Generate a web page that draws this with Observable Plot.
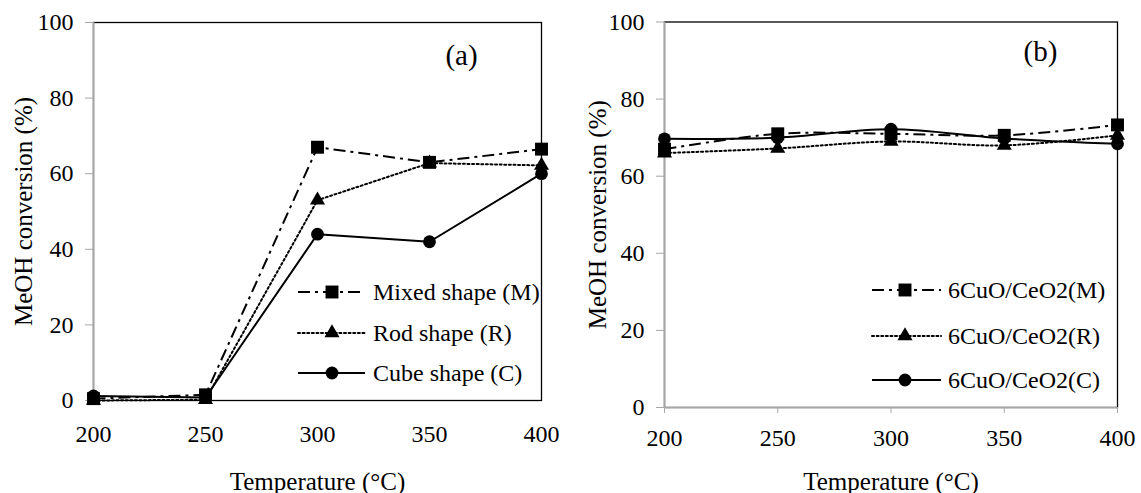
<!DOCTYPE html>
<html>
<head>
<meta charset="utf-8">
<script src="https://cdn.jsdelivr.net/npm/d3@7"></script>
<script src="https://cdn.jsdelivr.net/npm/@observablehq/plot@0.6"></script>
<style>
  html, body { margin: 0; padding: 0; background: #fff; }
  #wrap { position: relative; width: 1141px; height: 493px; overflow: hidden; background: #fff; }
  #pa { position: absolute; left: 0; top: 0; }
  #pb { position: absolute; left: 570px; top: 0; }
  #wrap svg, #wrap svg text, #wrap svg g { font-family: 'Liberation Serif', 'Times New Roman', serif !important; }
</style>
</head>
<body>
<div id="wrap"><div id="pa"></div><div id="pb"></div></div>
<script>
// ---- data ----
const temps = [200, 250, 300, 350, 400];
const xTicks = [200, 250, 300, 350, 400];
const yTicks = [0, 20, 40, 60, 80, 100];

const seriesA = ["Mixed shape (M)", "Rod shape (R)", "Cube shape (C)"];
const aMixed = [0.5, 1.5, 67, 63, 66.5];
const aRod   = [0, 0.2, 53, 62.8, 62.2];
const aCube  = [1.2, 0.8, 44, 42, 60];

const seriesB = ["6CuO/CeO2(M)", "6CuO/CeO2(R)", "6CuO/CeO2(C)"];
const bMixed = [67, 71, 71, 70.6, 73.3];
const bRod   = [66, 67.2, 69, 68, 70.6];
const bCube  = [69.7, 70, 72.2, 69.8, 68.4];

const xTitle = "Temperature (°C)";
const yTitle = "MeOH conversion (%)";

// ---- styles ----
const FONT = "'Liberation Serif', 'Times New Roman', serif";
const GRAY = "#a6a6a6";
const styles = [
  {symbol: "square", r: 7.3, dash: "12,5,3,5"},
  {symbol: "triangle", r: 5.6, dash: "2,2.6"},
  {symbol: "circle", r: 6.4, dash: null}
];

function toRows(names, arrays) {
  const rows = [];
  names.forEach((n, i) => arrays[i].forEach((v, j) => rows.push({series: n, idx: i, x: temps[j], y: v})));
  return rows;
}

function panel(opts) {
  const rows = toRows(opts.names, opts.arrays);
  const marks = [
    Plot.frame({stroke: "black", strokeWidth: 1.3}),
    Plot.ruleX([200], {stroke: GRAY, strokeWidth: 1.6}),
  ];
  if (opts.grayBottom) marks.push(Plot.ruleY([0], {stroke: GRAY, strokeWidth: 1.6}));
  marks.push(
    Plot.axisY({ticks: yTicks, tickSize: 8, tickPadding: 12, stroke: GRAY, fill: "black", label: null, fontSize: 24, fontFamily: FONT}),
    Plot.axisX({ticks: xTicks, tickSize: opts.xTickSize, tickPadding: opts.xTickPadding, stroke: GRAY, fill: "black", label: null, fontSize: 24, fontFamily: FONT}),
  );
  opts.names.forEach((n, i) => {
    const d = rows.filter(r => r.idx === i);
    const st = styles[i];
    marks.push(Plot.line(d, {x: "x", y: "y", stroke: "black", strokeWidth: 2,
      strokeDasharray: st.dash || undefined, strokeLinecap: i === 1 ? "round" : "butt",
      curve: opts.curve}));
    marks.push(Plot.dot(d, {x: "x", y: "y", symbol: () => st.symbol, r: st.r, fill: "black", stroke: "none"}));
  });
  marks.push(
    Plot.text([xTitle], {frameAnchor: "bottom", dy: opts.xTitleDy, fontSize: 25, fontFamily: FONT, textAnchor: "middle", lineAnchor: "middle", fill: "black"}),
    Plot.text([yTitle], {frameAnchor: "left", dx: opts.yTitleDx, rotate: -90, fontSize: 25, fontFamily: FONT, textAnchor: "middle", lineAnchor: "middle", fill: "black"}),
    Plot.text([opts.tag], {frameAnchor: "top-right", dx: opts.tagDx, dy: opts.tagDy, fontSize: 29, fontFamily: FONT, textAnchor: "middle", lineAnchor: "middle", fill: "black"})
  );
  const svg = Plot.plot({
    width: opts.width, height: 493,
    marginLeft: opts.ml, marginRight: opts.mr, marginTop: opts.mt, marginBottom: opts.mb,
    x: {domain: [200, 400]},
    y: {domain: [0, 100]},
    style: {fontFamily: FONT, fontSize: "24px", color: "black", background: "white", overflow: "visible"},
    marks
  });
  // legend
  const g = d3.select(svg).append("g").attr("font-family", FONT).attr("font-size", 24).attr("text-anchor", "start");
  opts.names.forEach((n, i) => {
    const st = styles[i];
    const y = opts.legY[i];
    g.append("line").attr("x1", opts.legX0).attr("x2", opts.legX1).attr("y1", y).attr("y2", y)
      .attr("stroke", "black").attr("stroke-width", 2)
      .attr("stroke-dasharray", st.dash || null)
      .attr("stroke-linecap", i === 1 ? "round" : "butt");
    g.append("path").attr("transform", `translate(${opts.legM},${y})`)
      .attr("d", d3.symbol(st.symbol === "square" ? d3.symbolSquare : st.symbol === "triangle" ? d3.symbolTriangle : d3.symbolCircle, Math.PI * st.r * st.r)())
      .attr("fill", "black");
    g.append("text").attr("x", opts.legT).attr("y", y).attr("dy", "0.35em").attr("text-anchor", "start").text(n).attr("fill", "black");
  });
  return svg;
}

document.getElementById("pa").appendChild(panel({
  names: seriesA, arrays: [aMixed, aRod, aCube], curve: "linear",
  width: 570, ml: 93, mr: 29, mt: 22, mb: 93,
  grayBottom: false, xTickSize: 0, xTickPadding: 24,
  xTitleDy: 81, yTitleDx: -70, tag: "(a)", tagDx: -80, tagDy: 33,
  legX0: 298, legX1: 365, legM: 332, legT: 373, legY: [292, 333, 373]
}));

document.getElementById("pb").appendChild(panel({
  names: seriesB, arrays: [bMixed, bRod, bCube], curve: "catmull-rom",
  width: 571, ml: 94, mr: 24, mt: 21.5, mb: 86,
  grayBottom: true, xTickSize: 6, xTickPadding: 15,
  xTitleDy: 74, yTitleDx: -67, tag: "(b)", tagDx: -77, tagDy: 30,
  legX0: 302, legX1: 371, legM: 335, legT: 378, legY: [290, 336, 380]
}));
</script>
</body>
</html>
